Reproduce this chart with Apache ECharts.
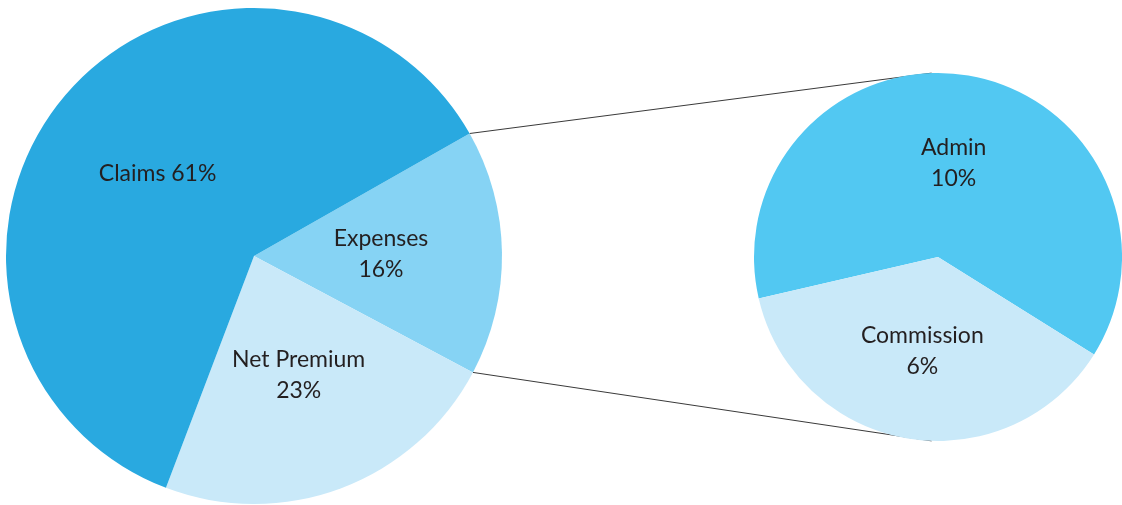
<!DOCTYPE html>
<html>
<head>
<meta charset="utf-8">
<title>Claims and expenses breakdown</title>
<script src="https://cdn.jsdelivr.net/npm/echarts@6/dist/echarts.min.js"></script>
<style>
  html, body { margin: 0; padding: 0; background: #ffffff; }
  #chart { width: 1122px; height: 505px; }
</style>
</head>
<body>
<div id="chart"></div>
<script>
// Main split of premium (percent)
const mainNames = ['Expenses', 'Net Premium', 'Claims'];
const mainValues = [16, 23, 61];
const mainBreaks = ['\n', '\n', ' '];

// Breakdown of the Expenses slice (percent of total premium)
const detailNames = ['Admin', 'Commission'];
const detailValues = [10, 6];
const detailBreaks = ['\n', '\n'];

const mainColors = ['#86d3f4', '#c9e9f9', '#29a9e0'];
const detailColors = ['#52c8f2', '#c9e9f9'];

// Geometry of the two pies
const mainPie = { cx: 254, cy: 256, r: 248, start: 29.6 };
const detailPie = { cx: 938, cy: 257, r: 184, start: 193 };

const labelStyle = {
  show: true,
  position: 'inside',
  color: '#231f20',
  fontFamily: 'Lato',
  fontSize: 23,
  lineHeight: 31,
  padding: [6, 0, 0, 0]
};

function buildData(names, values, breaks, colors) {
  return names.map((n, i) => ({
    name: n,
    value: values[i],
    itemStyle: { color: colors[i] },
    label: { formatter: n + breaks[i] + values[i] + '%' }
  }));
}

function pieSeries(geo, data) {
  return {
    type: 'pie',
    center: [geo.cx, geo.cy],
    radius: [0, geo.r],
    startAngle: geo.start,
    clockwise: true,
    avoidLabelOverlap: false,
    animation: false,
    silent: true,
    z: 2,
    label: labelStyle,
    labelLine: { show: false },
    emphasis: { disabled: true },
    itemStyle: { borderWidth: 0 },
    data: data
  };
}

// Connector lines: from the edges of the Expenses slice to the top/bottom of the detail pie
const mainTotal = mainValues.reduce((a, b) => a + b, 0);
const expAngle = mainValues[0] / mainTotal * 360;
const rad = d => d * Math.PI / 180;
function onCircle(geo, deg) {
  return [geo.cx + geo.r * Math.cos(rad(deg)), geo.cy - geo.r * Math.sin(rad(deg))];
}
const topFrom = onCircle(mainPie, mainPie.start);
const botFrom = onCircle(mainPie, mainPie.start - expAngle);
const topTo = onCircle(detailPie, 92);
const botTo = onCircle(detailPie, -92);

const chart = echarts.init(document.getElementById('chart'), null, { renderer: 'canvas' });
chart.setOption({
  backgroundColor: '#ffffff',
  animation: false,
  series: [
    pieSeries(mainPie, buildData(mainNames, mainValues, mainBreaks, mainColors)),
    pieSeries(detailPie, buildData(detailNames, detailValues, detailBreaks, detailColors))
  ],
  graphic: [
    {
      type: 'line', z: 1, silent: true,
      shape: { x1: topFrom[0], y1: topFrom[1], x2: topTo[0], y2: topTo[1] },
      style: { stroke: '#3a3a3a', lineWidth: 1 }
    },
    {
      type: 'line', z: 1, silent: true,
      shape: { x1: botFrom[0], y1: botFrom[1], x2: botTo[0], y2: botTo[1] },
      style: { stroke: '#3a3a3a', lineWidth: 1 }
    }
  ]
});
</script>
</body>
</html>
